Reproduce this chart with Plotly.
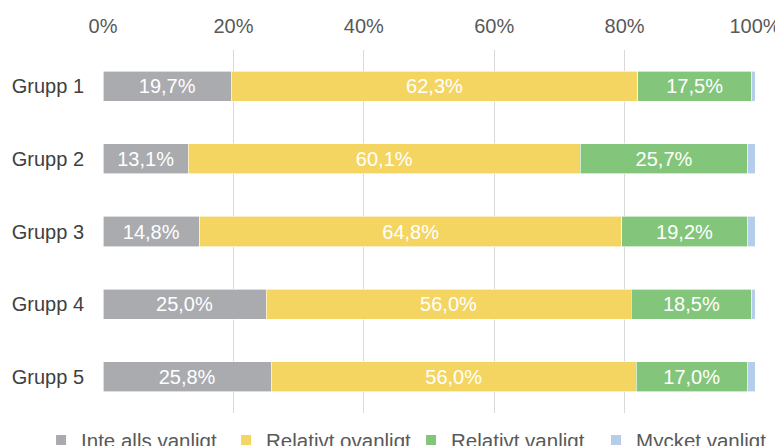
import plotly.graph_objects as go

categories = ["Grupp 1", "Grupp 2", "Grupp 3", "Grupp 4", "Grupp 5"]
series_names = ["Inte alls vanligt", "Relativt ovanligt", "Relativt vanligt", "Mycket vanligt"]
inte_alls = [19.7, 13.1, 14.8, 25.0, 25.8]
relativt_ovanligt = [62.3, 60.1, 64.8, 56.0, 56.0]
relativt_vanligt = [17.5, 25.7, 19.2, 18.5, 17.0]
mycket_vanligt = [0.5, 1.1, 1.2, 0.5, 1.2]
colors = ["#A9ABAF", "#F5D562", "#83C67B", "#B6CCEB"]
tick_vals = [0, 20, 40, 60, 80, 100]
tick_text = ["0%", "20%", "40%", "60%", "80%", "100%"]

FONT = "Liberation Sans, Arial, sans-serif"

fig = go.Figure()
all_series = [inte_alls, relativt_ovanligt, relativt_vanligt, mycket_vanligt]
for name, vals, col in zip(series_names, all_series, colors):
    show_text = name != "Mycket vanligt"
    fig.add_trace(go.Bar(
        y=categories, x=vals, name=name, orientation="h",
        marker=dict(color=col, line=dict(color="white", width=0.6)),
        text=[("%.1f%%" % v).replace(".", ",") for v in vals] if show_text else None,
        textposition="inside", insidetextanchor="middle",
        textfont=dict(color="white", size=20, family=FONT),
        hoverinfo="x+y+name",
    ))

# page body has an 8px margin, so the figure is 8px smaller than the window
fig.update_layout(
    barmode="stack",
    bargap=0.585,
    width=775, height=438,
    margin=dict(l=95, r=28, t=42, b=33, autoexpand=False),
    paper_bgcolor="white", plot_bgcolor="white",
    font=dict(family=FONT, size=20, color="#595959"),
    xaxis=dict(
        side="top", range=[0, 100], tickvals=tick_vals, ticktext=tick_text,
        showgrid=True, gridcolor="#D9D9D9", gridwidth=1, zeroline=False,
        tickfont=dict(size=20, color="#595959"), ticks="", ticklabelstandoff=12,
        showline=False,
    ),
    yaxis=dict(
        autorange="reversed", tickfont=dict(size=20, color="#404040"),
        ticks="", showgrid=False, ticklabelstandoff=18,
    ),
    legend=dict(
        orientation="h", x=-0.095, xanchor="left", y=-0.02, yanchor="top",
        font=dict(size=20.5, color="#595959"), traceorder="normal",
        itemwidth=30, itemsizing="constant",
        entrywidth=140, entrywidthmode="pixels",
    ),
    uniformtext=dict(mode="show", minsize=10),
)

fig.write_html("out.html", post_script="document.documentElement.style.overflow='hidden';document.body.style.overflow='hidden';")
